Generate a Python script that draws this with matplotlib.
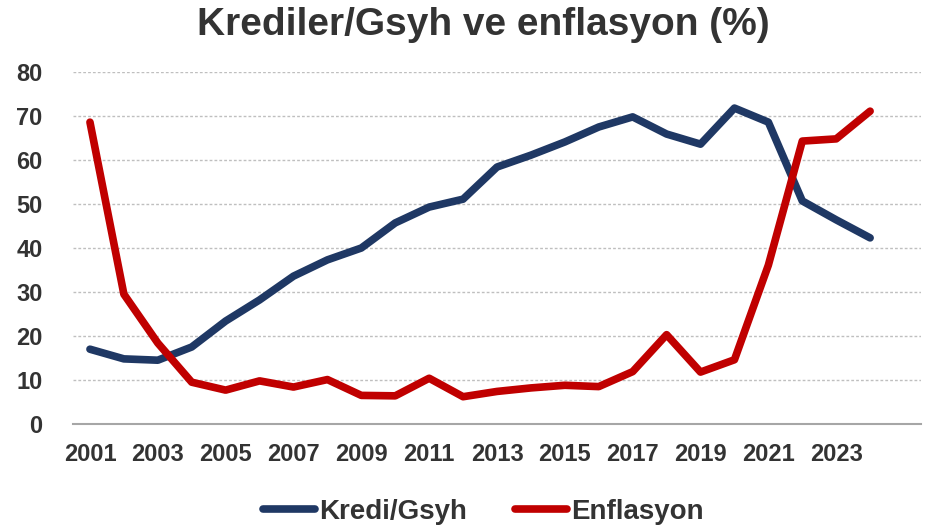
import matplotlib
matplotlib.use("Agg")
import matplotlib.pyplot as plt

years = list(range(2001, 2025))
kredi_gsyh = [17.0, 14.8, 14.5, 17.5, 23.4, 28.2, 33.6, 37.3, 40.0, 45.7, 49.3, 51.1,
              58.4, 61.1, 64.1, 67.5, 69.8, 65.9, 63.6, 71.8, 68.6, 50.7, 46.4, 42.3]
enflasyon = [68.6, 29.5, 18.4, 9.5, 7.7, 9.8, 8.4, 10.1, 6.5, 6.4, 10.4, 6.2,
             7.4, 8.2, 8.8, 8.5, 11.9, 20.3, 11.8, 14.6, 36.1, 64.3, 64.8, 71.1]
xtick_years = list(range(2001, 2024, 2))
yticks = list(range(0, 81, 10))

title = "Krediler/Gsyh ve enflasyon (%)"
label_k = "Kredi/Gsyh"
label_e = "Enflasyon"

fig = plt.figure(figsize=(9.26, 5.28), dpi=100)
ax = fig.add_axes([73/926, 1 - 424/528, (921-73)/926, (424-72)/528])

ax.plot(years, kredi_gsyh, color="#1F3864", lw=5.5, solid_capstyle="round",
        solid_joinstyle="round", label=label_k, zorder=3)
ax.plot(years, enflasyon, color="#C00000", lw=5.5, solid_capstyle="round",
        solid_joinstyle="round", label=label_e, zorder=3)

ax.set_xlim(2000.5, 2025.5)
ax.set_ylim(0, 80)
ax.set_yticks(yticks)
ax.set_xticks(xtick_years)
ax.set_xticklabels([str(y) for y in xtick_years], fontfamily="Liberation Sans",
                   fontweight="bold", fontsize=17, color="#333333")
ax.set_yticklabels([str(v) for v in yticks], fontfamily="Liberation Sans",
                   fontweight="bold", fontsize=17, color="#333333")
ax.tick_params(axis="x", length=0, pad=14)
ax.tick_params(axis="y", length=0, pad=22)

for v in yticks[1:]:
    ax.axhline(v, color="#BFBFBF", lw=1, ls=(0, (2, 1.5)), zorder=1)
for s in ["top", "right", "left"]:
    ax.spines[s].set_visible(False)
ax.spines["bottom"].set_color("#A6A6A6")
ax.spines["bottom"].set_linewidth(1.5)

fig.text(0.522, 1 - 25/528, title, ha="center", va="center", fontfamily="Liberation Sans",
         fontweight="bold", fontsize=28, color="#333333")

leg = fig.legend(loc="center", bbox_to_anchor=(0.522, 1 - 512/528), ncol=2, frameon=False,
                 prop={"family": "Liberation Sans", "weight": "bold", "size": 20},
                 handlelength=1.85, handletextpad=0.15, columnspacing=1.75)
for t in leg.get_texts():
    t.set_color("#333333")

fig.savefig("out.png", dpi=100)
